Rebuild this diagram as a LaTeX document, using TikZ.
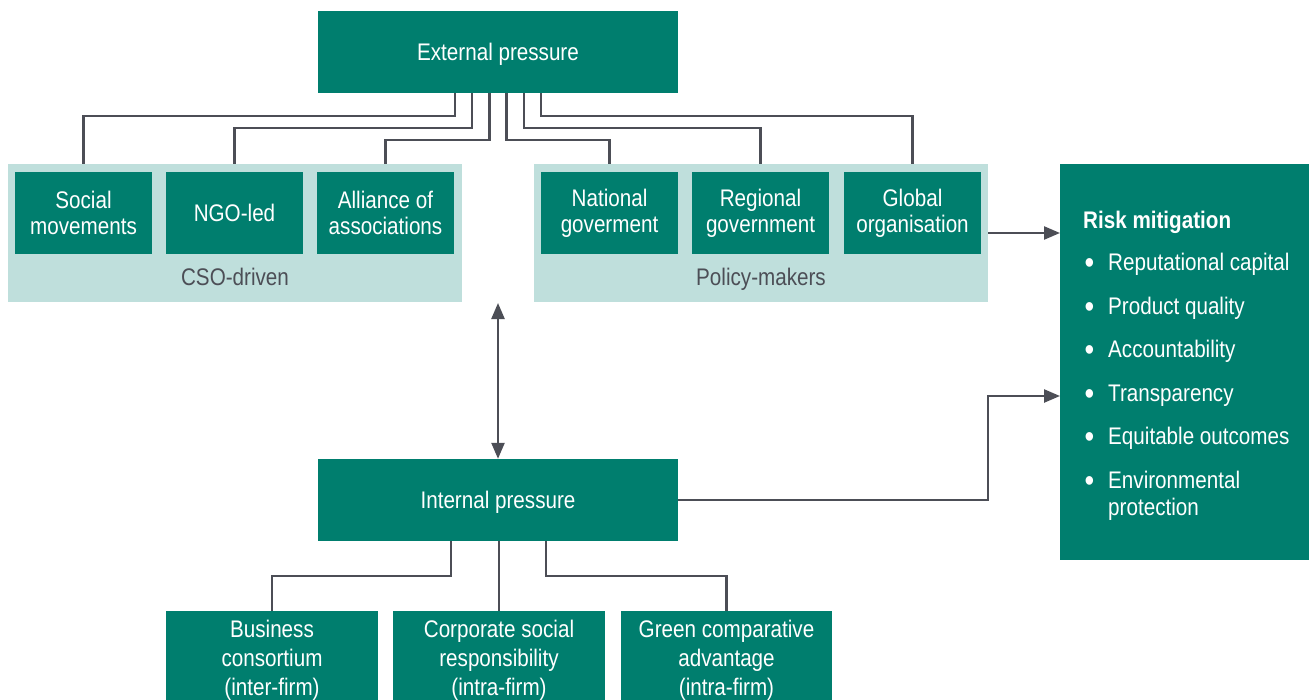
\documentclass[tikz,border=0pt]{standalone}
\usepackage{fontspec}
\setmainfont{Liberation Sans}[FakeStretch=0.86]
\usetikzlibrary{arrows.meta}
\definecolor{boxgreen}{HTML}{007E6E}
\definecolor{panelcol}{HTML}{BFDFDC}
\definecolor{linecol}{HTML}{4C4E56}
\begin{document}
\begin{tikzpicture}[x=1bp,y=-1bp,
  gbox/.style={fill=boxgreen, text=white, inner sep=0pt, align=center,
    font=\fontsize{24bp}{26bp}\selectfont},
  smallbox/.style={gbox, minimum width=137bp, minimum height=82bp},
  bigbox/.style={gbox, minimum width=360bp, minimum height=82bp, text depth=0pt},
  lowbox/.style={gbox, minimum height=98bp, font=\fontsize{24bp}{29bp}\selectfont},
  panel/.style={fill=panelcol, inner sep=0pt, minimum width=454bp, minimum height=138bp},
  plabel/.style={anchor=base, text=linecol, inner sep=0pt, font=\fontsize{24bp}{26bp}\selectfont},
  ritem/.style={anchor=base west, text=white, inner sep=0pt, font=\fontsize{24bp}{26bp}\selectfont},
  rbul/.style={anchor=base, text=white, inner sep=0pt, font=\fontsize{32bp}{32bp}\selectfont},
  conn/.style={draw=linecol, line width=2.4bp},
  arr/.style={conn, -{Triangle[width=13bp,length=16bp]}},
  darr/.style={conn, {Triangle[width=13bp,length=16bp]}-{Triangle[width=13bp,length=16bp]}}
]
\useasboundingbox (0,0) rectangle (1309,699);
\clip (0,0) rectangle (1309,699);

% panels
\node[panel] (cso) at (235,233) {};
\node[panel] (pol) at (761,233) {};
\node[plabel] (csol) at (235,285) {CSO-driven};
\node[plabel] (poll) at (761,285) {Policy-makers};

% top boxes
\node[bigbox] (ext) at (498,52) {External pressure};
\node[smallbox] (soc) at (83.5,213) {Social\\movements};
\node[smallbox] (ngo) at (234.5,213) {NGO-led};
\node[smallbox] (all) at (385.5,213) {Alliance of\\associations};
\node[smallbox] (nat) at (609.5,213) {National\\goverment};
\node[smallbox] (reg) at (760.5,213) {Regional\\government};
\node[smallbox] (glo) at (912.5,213) {Global\\organisation};

% internal
\node[bigbox] (int) at (498,500) {Internal pressure};
\node[lowbox, minimum width=212bp] (bus) at (272,660) {Business\\consortium\\(inter-firm)};
\node[lowbox, minimum width=212bp] (csr) at (499,660) {Corporate social\\responsibility\\(intra-firm)};
\node[lowbox, minimum width=211bp] (grn) at (726.5,660) {Green comparative\\advantage\\(intra-firm)};

% risk mitigation
\node[gbox, minimum width=249bp, minimum height=396bp] (risk) at (1184.5,362) {};
\node[ritem] (rt) at (1083,228) {\bfseries Risk mitigation};
\node[rbul] (b1) at (1089.5,273) {\textbullet};
\node[ritem] (r1) at (1108,270) {Reputational capital};
\node[rbul] (b2) at (1089.5,317) {\textbullet};
\node[ritem] (r2) at (1108,314) {Product quality};
\node[rbul] (b3) at (1089.5,360.5) {\textbullet};
\node[ritem] (r3) at (1108,357.5) {Accountability};
\node[rbul] (b4) at (1089.5,404) {\textbullet};
\node[ritem] (r4) at (1108,401) {Transparency};
\node[rbul] (b5) at (1089.5,447.5) {\textbullet};
\node[ritem] (r5) at (1108,444.5) {Equitable outcomes};
\node[rbul] (b6) at (1089.5,491) {\textbullet};
\node[ritem] (r6) at (1108,488) {Environmental};
\node[ritem] (r6b) at (1108,515) {protection};

% connectors external
\draw[conn] ([xshift=-43bp]ext.south) -- ++(0,23) -| (soc.north |- cso.north);
\draw[conn] ([xshift=-26bp]ext.south) -- ++(0,35) -| (ngo.north |- cso.north);
\draw[conn] ([xshift=-8.5bp]ext.south) -- ++(0,47) -| (all.north |- cso.north);
\draw[conn] ([xshift=8.5bp]ext.south) -- ++(0,47) -| (nat.north |- pol.north);
\draw[conn] ([xshift=26bp]ext.south) -- ++(0,35) -| (reg.north |- pol.north);
\draw[conn] ([xshift=43bp]ext.south) -- ++(0,23) -| (glo.north |- pol.north);

% connectors internal
\draw[conn] ([xshift=-47bp]int.south) -- ++(0,35) -| (bus.north);
\draw[conn] (int.south -| csr.north) -- (csr.north);
\draw[conn] ([xshift=48bp]int.south) -- ++(0,35) -| (grn.north);

% double arrow
\coordinate (dtop) at (498,303);
\draw[darr] (dtop) -- (int.north);

% arrows to risk
\coordinate (ra) at (1060,233);
\coordinate (rb) at (1060,396);
\draw[arr] (pol.east |- ra) -- (ra);
\draw[arr] (int.east) -| (pol.east |- rb) -- (rb);
\end{tikzpicture}
\end{document}
